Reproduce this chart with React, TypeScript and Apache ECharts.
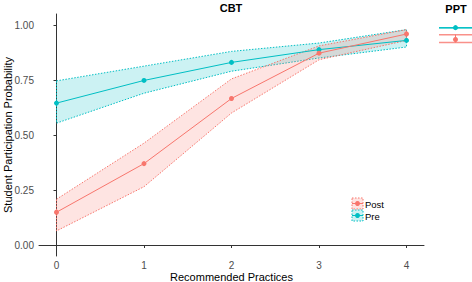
import React, { useEffect, useRef } from "react";
import * as echarts from "echarts";

const practices = [0, 1, 2, 3, 4];
const preMean = [0.645, 0.748, 0.83, 0.888, 0.93];
const preLow = [0.554, 0.69, 0.79, 0.85, 0.9];
const preHigh = [0.746, 0.813, 0.88, 0.918, 0.979];
const postMean = [0.149, 0.37, 0.666, 0.872, 0.959];
const postLow = [0.064, 0.265, 0.6, 0.842, 0.93];
const postHigh = [0.208, 0.463, 0.755, 0.905, 0.979];
const yTicks = [0, 0.25, 0.5, 0.75, 1];
// PPT panel
const pptPre = { mean: 0.988, low: 0.988, high: 0.988 };
const pptPost = { mean: 0.934, low: 0.92, high: 0.956 };

const PRE = "#00BFC4";
const POST = "#F8766D";
const FONT = "Liberation Sans, Arial, sans-serif";

function bandSeries(low: number[], high: number[], color: string) {
  return {
    type: "custom",
    xAxisIndex: 0,
    yAxisIndex: 0,
    silent: true,
    z: 1,
    data: practices.map((x, i) => [x, low[i], high[i]]),
    renderItem: (params: any, api: any) => {
      if (params.dataIndex !== 0) return null;
      const top = practices.map((x, i) => api.coord([x, high[i]]));
      const bot = practices.map((x, i) => api.coord([x, low[i]])).reverse();
      return {
        type: "polygon",
        shape: { points: top.concat(bot) },
        style: {
          fill: color,
          opacity: 1,
          fillOpacity: 0.2,
          stroke: color,
          lineWidth: 1,
          lineDash: [1.5, 1.5],
        },
      } as any;
    },
  };
}

function pptSeries(d: { mean: number; low: number; high: number }, color: string) {
  return {
    type: "custom",
    xAxisIndex: 1,
    yAxisIndex: 1,
    silent: true,
    z: 3,
    data: [[0, d.mean]],
    renderItem: (params: any, api: any) => {
      const l1 = api.coord([-0.5, d.high]);
      const r1 = api.coord([0.5, d.high]);
      const l2 = api.coord([-0.5, d.low]);
      const r2 = api.coord([0.5, d.low]);
      const vt = api.coord([0, d.high]);
      const vb = api.coord([0, d.low]);
      const c = api.coord([0, d.mean]);
      const st = { stroke: color, lineWidth: 1.5, opacity: 0.8 };
      return {
        type: "group",
        children: [
          { type: "line", shape: { x1: l1[0], y1: l1[1], x2: r1[0], y2: r1[1] }, style: st },
          { type: "line", shape: { x1: l2[0], y1: l2[1], x2: r2[0], y2: r2[1] }, style: st },
          { type: "line", shape: { x1: vt[0], y1: vt[1], x2: vb[0], y2: vb[1] }, style: { stroke: color, lineWidth: 1 } },
          { type: "circle", shape: { cx: c[0], cy: c[1], r: 2.5 }, style: { fill: color } },
        ],
      } as any;
    },
  };
}

export default function App() {
  const ref = useRef<HTMLDivElement>(null);
  useEffect(() => {
    const chart = echarts.init(ref.current!, null, { renderer: "svg" });
    const axisLine = { show: true, lineStyle: { color: "#333", width: 1 } };
    chart.setOption({
      animation: false,
      backgroundColor: "#fff",
      textStyle: { fontFamily: FONT },
      grid: [
        { left: 39, top: 14, width: 385, height: 242, outerBoundsMode: "none", containLabel: false },
        { left: 439, top: 14, width: 33, height: 242, outerBoundsMode: "none", containLabel: false },
      ],
      xAxis: [
        {
          gridIndex: 0,
          type: "value",
          min: -0.2,
          max: 4.2,
          name: "Recommended Practices",
          nameLocation: "middle",
          nameGap: 15,
          nameMoveOverlap: false,
          nameTextStyle: { color: "#000", fontSize: 11, verticalAlign: "top" },
          axisLine,
          axisTick: { show: true, length: 3, customValues: practices, lineStyle: { color: "#333" } },
          axisLabel: { customValues: practices, color: "#4d4d4d", fontSize: 10, margin: 4 },
          splitLine: { show: false },
        },
        {
          gridIndex: 1,
          type: "value",
          min: -0.5,
          max: 0.5,
          show: false,
        },
      ],
      yAxis: [
        {
          gridIndex: 0,
          type: "value",
          min: -0.05,
          max: 1.05,
          name: "Student Participation Probability",
          nameLocation: "middle",
          nameGap: 26,
          nameMoveOverlap: false,
          nameTextStyle: { color: "#000", fontSize: 11 },
          axisLine,
          axisTick: { show: true, length: 3, customValues: yTicks, lineStyle: { color: "#333" } },
          axisLabel: {
            customValues: yTicks,
            color: "#4d4d4d",
            fontSize: 10,
            margin: 5,
            formatter: (v: number) => v.toFixed(2),
          },
          splitLine: { show: false },
        },
        {
          gridIndex: 1,
          type: "value",
          min: -0.05,
          max: 1.05,
          show: false,
        },
      ],
      series: [
        bandSeries(preLow, preHigh, PRE),
        bandSeries(postLow, postHigh, POST),
        {
          type: "line",
          name: "Pre",
          xAxisIndex: 0,
          yAxisIndex: 0,
          z: 3,
          data: practices.map((x, i) => [x, preMean[i]]),
          symbol: "circle",
          symbolSize: 5,
          itemStyle: { color: PRE },
          lineStyle: { color: PRE, width: 1 },
        },
        {
          type: "line",
          name: "Post",
          xAxisIndex: 0,
          yAxisIndex: 0,
          z: 3,
          data: practices.map((x, i) => [x, postMean[i]]),
          symbol: "circle",
          symbolSize: 5,
          itemStyle: { color: POST },
          lineStyle: { color: POST, width: 1 },
        },
        pptSeries(pptPost, POST),
        pptSeries(pptPre, PRE),
      ],
      graphic: [
        { type: "text", x: 231, y: 8, style: { text: "CBT", fontSize: 11, fontWeight: "bold", fill: "#000", align: "center", verticalAlign: "middle", fontFamily: FONT } },
        { type: "text", x: 456, y: 9, style: { text: "PPT", fontSize: 11, fontWeight: "bold", fill: "#000", align: "center", verticalAlign: "middle", fontFamily: FONT } },
        // legend: Post
        { type: "rect", shape: { x: 352, y: 198, width: 11, height: 11 }, style: { fill: "rgba(248,118,109,0.2)", stroke: POST, lineWidth: 1, lineDash: [1.5, 1.5] } },
        { type: "line", shape: { x1: 352, y1: 203.5, x2: 363, y2: 203.5 }, style: { stroke: POST, lineWidth: 1 } },
        { type: "circle", shape: { cx: 357.5, cy: 203.5, r: 2.5 }, style: { fill: POST } },
        { type: "text", x: 365, y: 204, style: { text: "Post", fontSize: 9.5, fill: "#000", verticalAlign: "middle", fontFamily: FONT } },
        // legend: Pre
        { type: "rect", shape: { x: 352, y: 210, width: 11, height: 11 }, style: { fill: "rgba(0,191,196,0.2)", stroke: PRE, lineWidth: 1, lineDash: [1.5, 1.5] } },
        { type: "line", shape: { x1: 352, y1: 215.5, x2: 363, y2: 215.5 }, style: { stroke: PRE, lineWidth: 1 } },
        { type: "circle", shape: { cx: 357.5, cy: 215.5, r: 2.5 }, style: { fill: PRE } },
        { type: "text", x: 365, y: 216, style: { text: "Pre", fontSize: 9.5, fill: "#000", verticalAlign: "middle", fontFamily: FONT } },
      ],
    });
    return () => chart.dispose();
  }, []);
  return <div ref={ref} style={{ width: 472, height: 282, position: "absolute", left: 0, top: 0 }} />;
}
